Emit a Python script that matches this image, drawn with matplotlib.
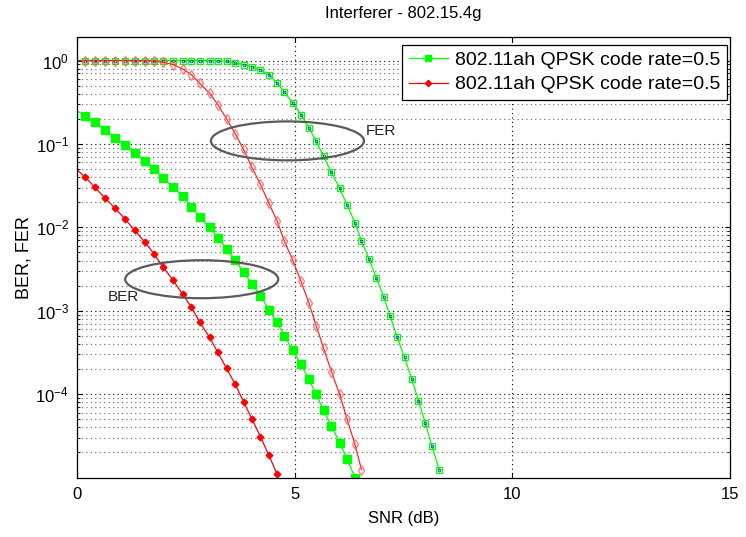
import matplotlib

matplotlib.use("Agg")
import matplotlib.pyplot as plt  # noqa: E402
from matplotlib.lines import Line2D  # noqa: E402
from matplotlib.patches import Ellipse  # noqa: E402

# shared SNR grid (dB); the first point lies just left of the axis so the
# lines run to the edge like in the original
snr_db = [-0.06, 0.18, 0.40, 0.63, 0.86, 1.09, 1.32, 1.55, 1.77, 1.97, 2.20,
          2.42, 2.62, 2.81, 3.04, 3.23, 3.43, 3.63, 3.82, 4.01, 4.21, 4.40,
          4.59, 4.76, 4.95, 5.14, 5.32, 5.49, 5.66, 5.84, 6.03, 6.20, 6.38,
          6.53, 6.70, 6.87, 7.04, 7.19, 7.35, 7.52, 7.69, 7.84, 8.00, 8.15,
          8.32]

red_ber = [0.0518, 0.0401, 0.0304, 0.0226, 0.0171, 0.0127, 0.0092, 0.00667,
           0.00475, 0.00335, 0.00232, 0.00158, 0.00111, 7.35e-4, 4.78e-4,
           3.16e-4, 2.03e-4, 1.31e-4, 8.1e-5, 5.07e-5, 3.08e-5, 1.86e-5,
           1.10e-5]

green_ber = [0.257, 0.219, 0.182, 0.148, 0.1186, 0.0959, 0.0776, 0.0631,
             0.0495, 0.0391, 0.0302, 0.0236, 0.0175, 0.01327, 0.0100, 0.0075,
             0.00556, 0.00403, 0.00292, 0.00212, 0.00151, 0.00103, 7.23e-4,
             5.0e-4, 3.37e-4, 2.27e-4, 1.51e-4, 9.9e-5, 6.46e-5, 4.14e-5,
             2.61e-5, 1.68e-5, 1.0e-5]

red_fer = [1.0, 1.0, 1.0, 1.0, 1.0, 1.0, 1.0, 0.998, 0.985, 0.95, 0.895,
           0.794, 0.679, 0.535, 0.406, 0.296, 0.2, 0.132, 0.0859, 0.0528,
           0.0327, 0.0195, 0.0120, 0.00679, 0.00403, 0.00226, 0.00125,
           6.6e-4, 3.55e-4, 1.86e-4, 9.9e-5, 5.0e-5, 2.5e-5, 1.245e-5]

green_fer = [1.0, 1.0, 1.0, 1.0, 1.0, 1.0, 1.0, 1.0, 1.0, 1.0, 1.0, 1.0, 1.0,
             1.0, 0.995, 0.99, 0.98, 0.93, 0.895, 0.847, 0.773, 0.68, 0.537,
             0.42, 0.308, 0.225, 0.156, 0.108, 0.0708, 0.0456, 0.0293, 0.0185,
             0.01138, 0.00686, 0.00422, 0.00249, 0.001466, 8.59e-4, 4.86e-4,
             2.75e-4, 1.51e-4, 8.3e-5, 4.46e-5, 2.38e-5, 1.23e-5]

legend_label = "802.11ah QPSK code rate=0.5"
GREEN = "#00ff00"
RED = "#ff0000"
DOTS = (0, (1, 3))

plt.rcParams["font.family"] = ["Liberation Sans Narrow", "Liberation Sans",
                               "DejaVu Sans"]
plt.rcParams["mathtext.fontset"] = "custom"
plt.rcParams["mathtext.rm"] = "Liberation Sans"

fig = plt.figure(figsize=(7.46, 5.37), dpi=100)
ax = fig.add_axes([0.1036, 0.1108, 0.875, 0.8194])

skip = slice(1, None)
ax.plot(snr_db[:len(green_fer)], green_fer, color=GREEN, lw=0.9,
        marker="s", ms=4.6, mfc="none", mec=GREEN, mew=0.9, markevery=skip)
ax.plot(snr_db[1:len(green_fer)], green_fer[1:], ls="none",
        marker="o", ms=2.0, mfc="none", mec="#1030c0", mew=0.6)
ax.plot(snr_db[:len(red_fer)], red_fer, color=RED, lw=0.9, alpha=0.85,
        marker="d", ms=4.8, mfc="none", mec="#ff6060", mew=0.9, markevery=skip)
ax.plot(snr_db[:len(green_ber)], green_ber, color=GREEN, lw=0.9,
        marker="s", ms=5.2, mfc=GREEN, mec=GREEN, markevery=skip)
ax.plot(snr_db[:len(red_ber)], red_ber, color=RED, lw=0.9,
        marker="D", ms=3.4, mfc=RED, mec=RED, markevery=skip)

ax.set_yscale("log")
ax.set_xlim(0, 15)
ax.set_ylim(1e-5, 1.89)
ax.set_xticks([0, 5, 10, 15])
ax.set_yticks([1e-4, 1e-3, 1e-2, 1e-1, 1e0])
ax.grid(which="major", ls=DOTS, color="black", lw=0.8)
ax.grid(which="minor", axis="y", ls=DOTS, color="0.4", lw=0.8)
ax.tick_params(which="both", direction="in", top=True, right=True,
               labelsize=12)
ax.tick_params(axis="x", pad=7)
ax.tick_params(axis="y", pad=6)
for side in ax.spines.values():
    side.set_linewidth(0.9)

ax.set_title("Interferer - 802.15.4g", fontsize=12, pad=14)
ax.set_xlabel("SNR (dB)", fontsize=12, labelpad=6)
ax.set_ylabel("BER, FER", fontsize=13, labelpad=2)

# grey ellipses marking the two curve groups
ax.add_patch(Ellipse((0.322, 0.765), 0.2344, 0.0885, transform=ax.transAxes,
                     fill=False, ec="#5a5a5a", lw=1.6, zorder=5))
ax.add_patch(Ellipse((0.1906, 0.4506), 0.2344, 0.0863, transform=ax.transAxes,
                     fill=False, ec="#5a5a5a", lw=1.6, zorder=5))
ax.text(0.442, 0.787, "FER", transform=ax.transAxes, fontsize=11,
        family="Liberation Sans", va="center", ha="left", color="#222222")
ax.text(0.047, 0.41, "BER", transform=ax.transAxes, fontsize=11,
        family="Liberation Sans", va="center", ha="left", color="#222222")

handles = [
    Line2D([], [], color=GREEN, lw=0.9, marker="s", ms=4.5, mfc=GREEN, mec=GREEN),
    Line2D([], [], color=RED, lw=0.9, marker="D", ms=3.2, mfc=RED, mec=RED),
]
leg = ax.legend(handles, [legend_label, legend_label], loc="upper right",
                bbox_to_anchor=(0.995, 0.984), borderaxespad=0,
                fancybox=False, framealpha=1, edgecolor="black",
                prop={"family": "Liberation Sans", "size": 14},
                handlelength=2.0, handletextpad=0.35, borderpad=0.35,
                labelspacing=0.35)
leg.get_frame().set_linewidth(0.9)

fig.savefig("out.png", dpi=100)
plt.close(fig)
